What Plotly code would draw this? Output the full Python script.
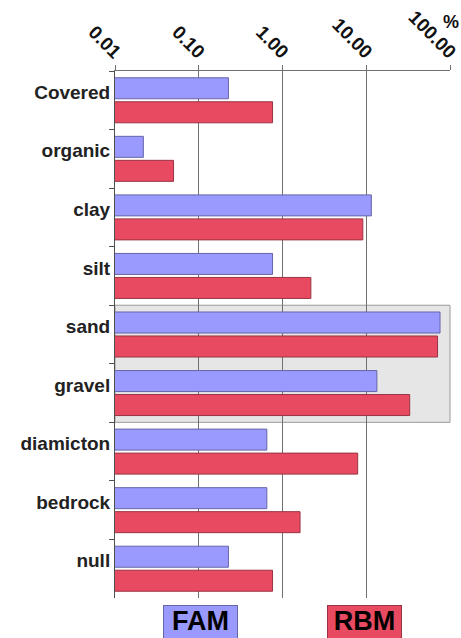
import plotly.graph_objects as go

categories = ["Covered", "organic", "clay", "silt", "sand", "gravel", "diamicton", "bedrock", "null"]
fam_values = [0.226, 0.0218, 11.5, 0.76, 76.0, 13.4, 0.65, 0.65, 0.226]
rbm_values = [0.76, 0.050, 9.1, 2.18, 71.0, 33.0, 7.9, 1.62, 0.76]
tick_vals = [0.01, 0.1, 1, 10, 100]
tick_text = ["0.01", "0.10", "1.00", "10.00", "100.00"]
series_names = ["FAM", "RBM"]
fill_colors = ["#9a99fd", "#e84a61"]
line_colors = ["#6565a8", "#9a3343"]
highlight = ["sand", "gravel"]

FONT = "Liberation Sans, Arial, sans-serif"

fig = go.Figure()
for name, vals, fc, lc in zip(series_names, [fam_values, rbm_values], fill_colors, line_colors):
    fig.add_trace(go.Bar(
        y=categories, x=vals, name=name, orientation="h",
        marker=dict(color=fc, line=dict(color=lc, width=1)),
        showlegend=False,
    ))

i0 = categories.index(highlight[0])
i1 = categories.index(highlight[-1])
fig.add_shape(type="rect", xref="x domain", yref="y",
              x0=0, x1=1, y0=i0 - 0.5, y1=i1 + 0.5,
              fillcolor="#e6e6e6", line=dict(color="#9a9a9a", width=1),
              layer="below")

fig.update_layout(
    width=461, height=638,
    margin=dict(l=115, r=11, t=71, b=40, autoexpand=False),
    paper_bgcolor="white", plot_bgcolor="white",
    barmode="group", bargap=0.18, bargroupgap=0.125,
    font=dict(family=FONT, color="#222222"),
    xaxis=dict(
        type="log", range=[-2, 2], side="top", automargin=False,
        tickvals=tick_vals, ticktext=tick_text, tickangle=45,
        tickfont=dict(size=19, weight="bold", color="#111111"),
        ticklabelstandoff=-5, ticklabelshift=5, ticklabeloverflow="allow",
        showgrid=True, gridcolor="#707070", gridwidth=1,
        showline=True, linecolor="#707070", linewidth=1,
        ticks="outside", ticklen=5, tickcolor="#707070",
        zeroline=False,
    ),
    yaxis=dict(
        autorange="reversed", automargin=False,
        tickfont=dict(size=19, weight="bold", color="#222222"),
        ticklabelshift=8,
        showline=True, linecolor="#505050", linewidth=1,
        ticks="outside", ticklen=5, tickcolor="#505050",
        tickson="boundaries", showgrid=False,
    ),
)

fig.add_annotation(text="%", xref="paper", yref="paper", x=1.0, y=1.0,
                   xanchor="center", yanchor="middle", xshift=1, yshift=49,
                   showarrow=False, font=dict(size=18, weight="bold", color="#111111"))

centers = [200, 364]
for name, fc, lc, cx in zip(series_names, fill_colors, line_colors, centers):
    fig.add_annotation(
        text=name, xref="paper", yref="paper",
        x=(cx - 115) / (461 - 126), y=(598 - 605) / 527,
        xanchor="center", yanchor="top", showarrow=False,
        width=73, height=40, valign="top",
        bgcolor=fc, bordercolor=lc, borderwidth=1, borderpad=0,
        font=dict(size=27, weight="bold", color="#000000"),
    )

fig.write_html("out.html")
